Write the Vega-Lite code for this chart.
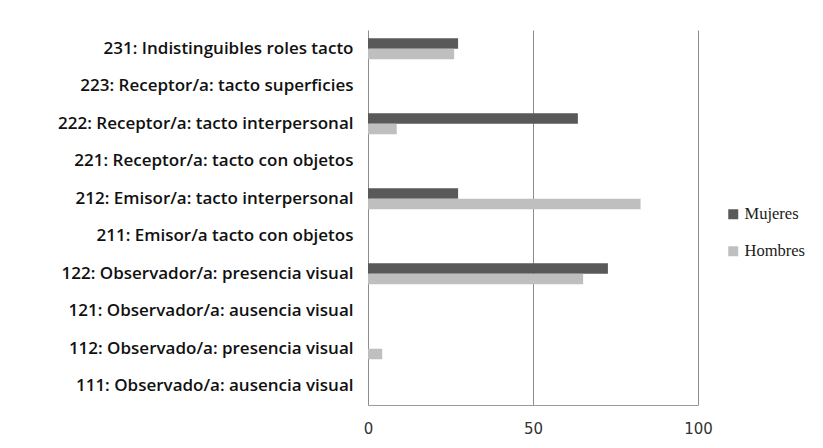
{
  "$schema": "https://vega.github.io/schema/vega-lite/v6.json",
  "width": 330,
  "height": 375,
  "autosize": "none",
  "padding": {"left": 368, "top": 30, "right": 125, "bottom": 43},
  "background": "white",
  "data": {
    "values": [
      {"rol": "231: Indistinguibles roles tacto", "sexo": "Mujeres", "valor": 27.3},
      {"rol": "231: Indistinguibles roles tacto", "sexo": "Hombres", "valor": 26.1},
      {"rol": "223: Receptor/a: tacto superficies", "sexo": "Mujeres", "valor": 0},
      {"rol": "223: Receptor/a: tacto superficies", "sexo": "Hombres", "valor": 0},
      {"rol": "222: Receptor/a: tacto interpersonal", "sexo": "Mujeres", "valor": 63.6},
      {"rol": "222: Receptor/a: tacto interpersonal", "sexo": "Hombres", "valor": 8.7},
      {"rol": "221: Receptor/a: tacto con objetos", "sexo": "Mujeres", "valor": 0},
      {"rol": "221: Receptor/a: tacto con objetos", "sexo": "Hombres", "valor": 0},
      {"rol": "212: Emisor/a: tacto interpersonal", "sexo": "Mujeres", "valor": 27.3},
      {"rol": "212: Emisor/a: tacto interpersonal", "sexo": "Hombres", "valor": 82.6},
      {"rol": "211: Emisor/a tacto con objetos", "sexo": "Mujeres", "valor": 0},
      {"rol": "211: Emisor/a tacto con objetos", "sexo": "Hombres", "valor": 0},
      {"rol": "122: Observador/a: presencia visual", "sexo": "Mujeres", "valor": 72.7},
      {"rol": "122: Observador/a: presencia visual", "sexo": "Hombres", "valor": 65.2},
      {"rol": "121: Observador/a: ausencia visual", "sexo": "Mujeres", "valor": 0},
      {"rol": "121: Observador/a: ausencia visual", "sexo": "Hombres", "valor": 0},
      {"rol": "112: Observado/a: presencia visual", "sexo": "Mujeres", "valor": 0},
      {"rol": "112: Observado/a: presencia visual", "sexo": "Hombres", "valor": 4.3},
      {"rol": "111: Observado/a: ausencia visual", "sexo": "Mujeres", "valor": 0},
      {"rol": "111: Observado/a: ausencia visual", "sexo": "Hombres", "valor": 0}
    ]
  },
  "mark": {"type": "bar"},
  "encoding": {
    "y": {
      "field": "rol",
      "type": "nominal",
      "sort": null,
      "title": null,
      "scale": {"paddingInner": 0.44, "paddingOuter": 0.22},
      "axis": {
        "domain": false,
        "ticks": false,
        "labelFont": "Open Sans",
        "labelFontSize": 17,
        "labelFontWeight": 600,
        "labelColor": "#111111",
        "labelPadding": 15,
        "labelLimit": 0
      }
    },
    "yOffset": {
      "field": "sexo",
      "type": "nominal",
      "sort": ["Mujeres", "Hombres"],
      "scale": {"paddingInner": 0, "paddingOuter": 0}
    },
    "x": {
      "field": "valor",
      "type": "quantitative",
      "title": null,
      "scale": {"domain": [0, 100], "nice": false},
      "axis": {
        "values": [0, 50, 100],
        "grid": true,
        "gridColor": "#8c8c8c",
        "gridWidth": 1,
        "domainColor": "#9a9a9a",
        "ticks": false,
        "labelFont": "DejaVu Sans",
        "labelFontSize": 15,
        "labelColor": "#333333",
        "labelPadding": 16,
        "labelFlush": false
      }
    },
    "color": {
      "field": "sexo",
      "type": "nominal",
      "sort": ["Mujeres", "Hombres"],
      "scale": {"domain": ["Mujeres", "Hombres"], "range": ["#595959", "#bfbfbf"]},
      "legend": {
        "title": null,
        "orient": "none",
        "legendX": 357,
        "legendY": 176,
        "symbolType": "square",
        "symbolSize": 100,
        "symbolStrokeWidth": 0,
        "labelFont": "Liberation Serif",
        "labelFontSize": 16.5,
        "labelColor": "#1a1a1a",
        "labelOffset": 3,
        "rowPadding": 20
      }
    }
  },
  "config": {
    "view": {"stroke": null}
  }
}
